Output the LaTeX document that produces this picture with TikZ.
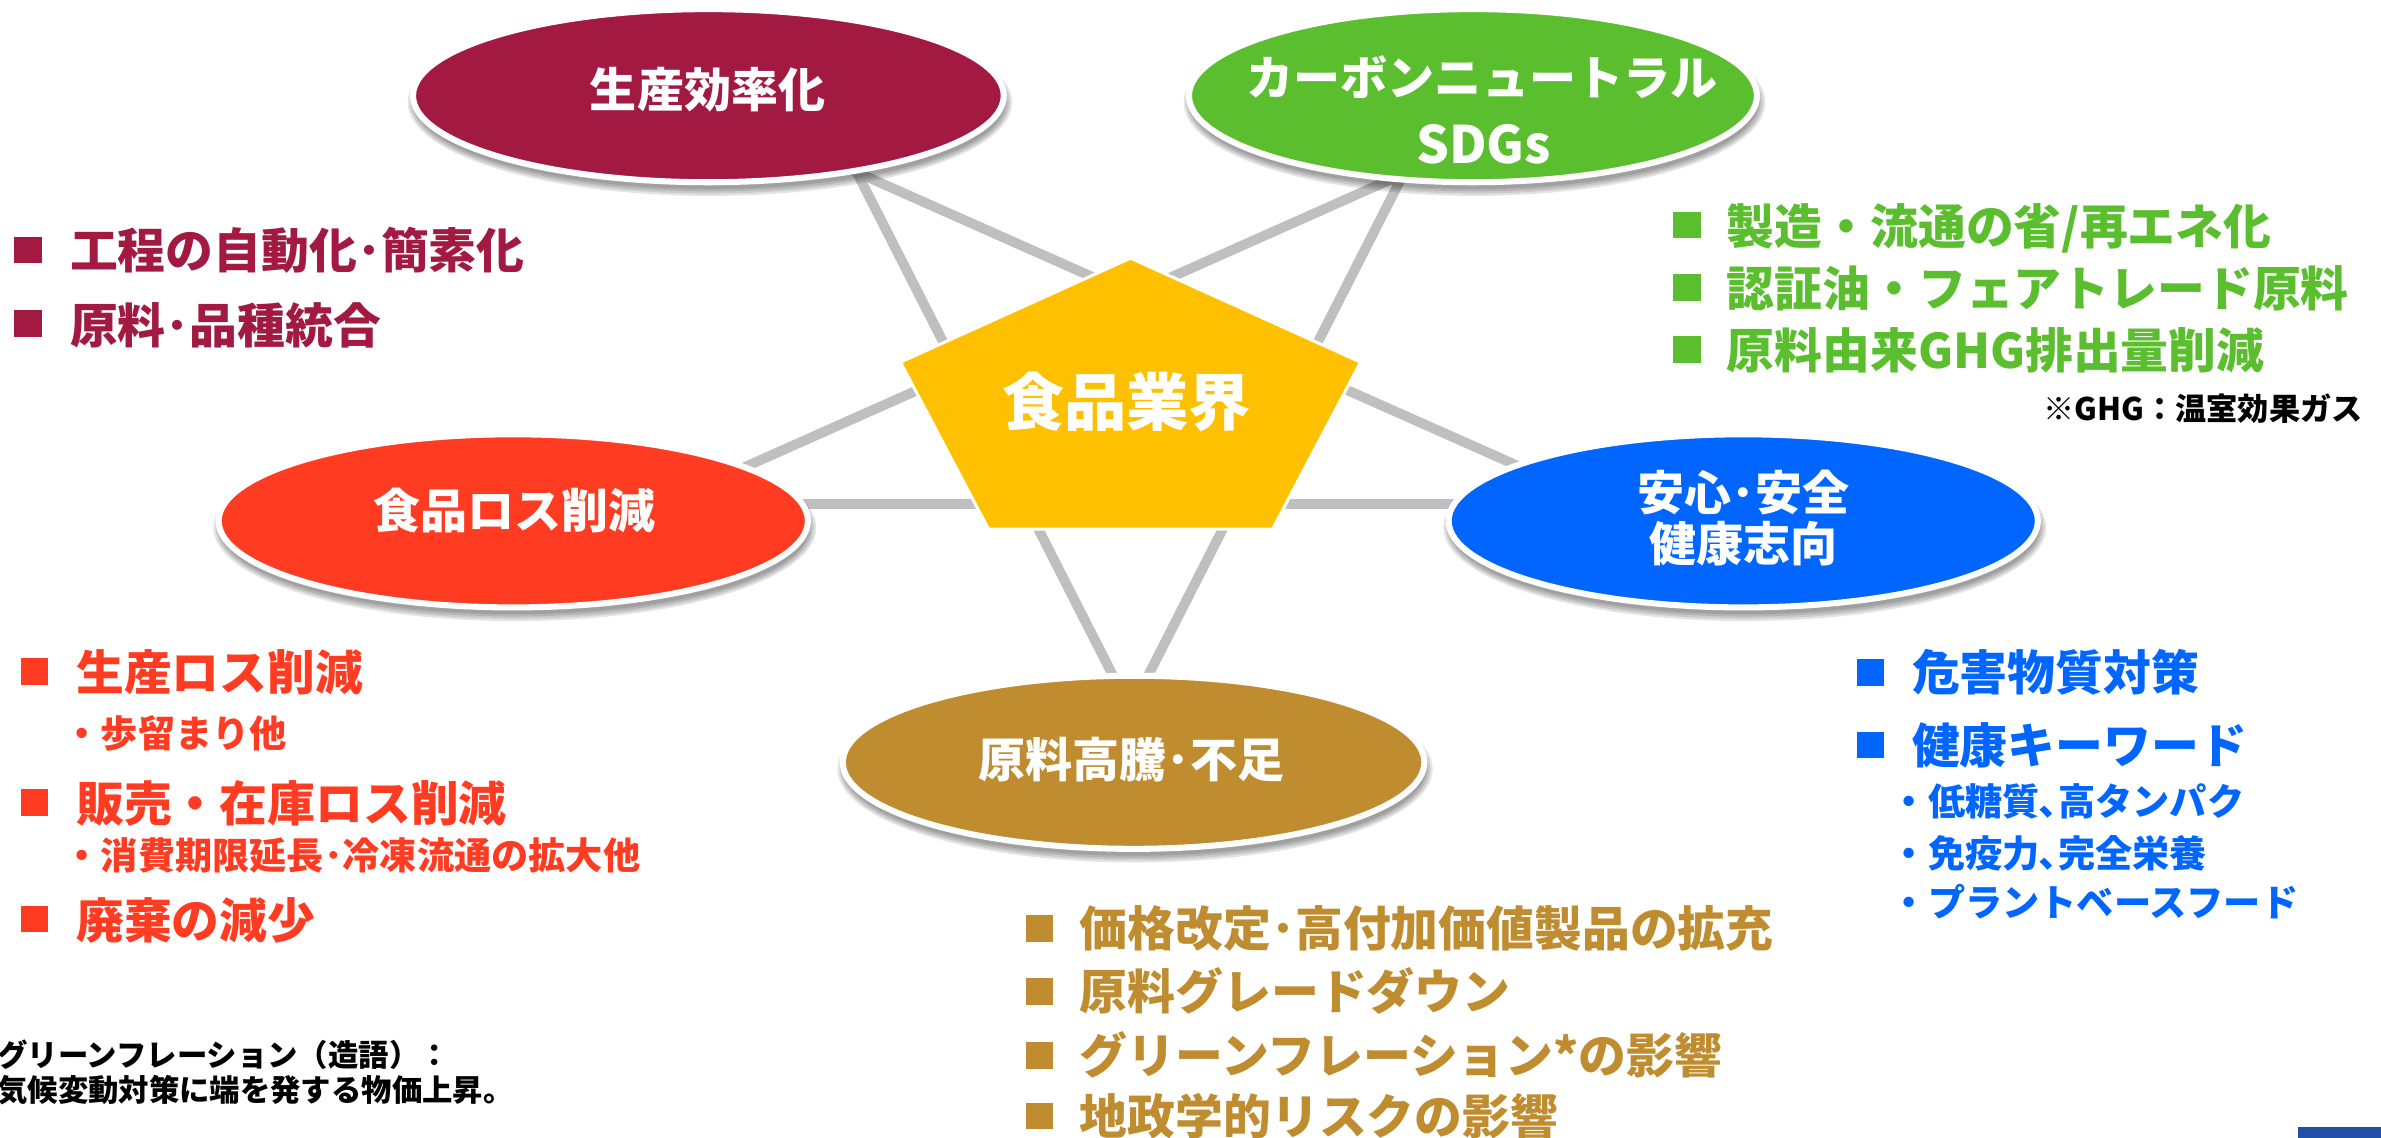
\documentclass[tikz,border=0pt]{standalone}
\usepackage{fontspec}
\setmainfont{Noto Sans CJK JP}
\usetikzlibrary{shapes.geometric}
\definecolor{ccrim}{HTML}{A21A42}
\definecolor{cgrn}{HTML}{5BBE2E}
\definecolor{cred}{HTML}{FF3B22}
\definecolor{cblu}{HTML}{0066FF}
\definecolor{cbrn}{HTML}{C08C30}
\definecolor{cgld}{HTML}{FFC000}
\definecolor{lgray}{HTML}{BFBFBF}
\definecolor{cbar}{HTML}{2150A8}
\tikzset{
  oval/.style={ellipse, draw=white, line width=4pt, inner sep=0pt, outer sep=0pt, minimum height=114pt},
  ovtxt/.style={text=white, inner sep=0pt, anchor=base, font=\bfseries\fontsize{31}{36}\selectfont},
  starline/.style={draw=lgray, line width=6.5pt},
  bsq/.style={fill=#1, minimum width=18pt, minimum height=17.5pt, inner sep=0pt, outer sep=0pt},
  btx/.style={anchor=base west, inner sep=0pt, text=#1, font=\bfseries\fontsize{31.5}{36}\selectfont},
  stx/.style={anchor=base west, inner sep=0pt, text=#1, font=\bfseries\fontsize{24.5}{28}\selectfont},
  ntx/.style={anchor=base west, inner sep=0pt, text=black, font=\bfseries\fontsize{20}{24}\selectfont},
}
\newcommand\ovshadow[4]{%
  \foreach \dd in {0,1.5,3,4.5}{%
    \fill[black, opacity=0.11] (#1+1,#2+4.5) ellipse [x radius={(#3+2.5-\dd)*1pt}, y radius={(#4+2.5-\dd)*1pt}];
  }%
}
\begin{document}
\begin{tikzpicture}[x=1pt,y=-1pt]
\useasboundingbox (0,0) rectangle (1568,749.4);
% pentagram lines
\coordinate (a1) at (559.9,105);  \coordinate (a2) at (740.6,460);
\coordinate (b1) at (560,111.6);  \coordinate (b2) at (1000,307);
\coordinate (c1) at (929.1,105);  \coordinate (c2) at (748.4,460);
\coordinate (d1) at (920,116.3);  \coordinate (d2) at (485,310);
\coordinate (e1) at (520,332);    \coordinate (e2) at (970,332);
\draw[starline] (a1) -- (a2);
\draw[starline] (b1) -- (b2);
\draw[starline] (c1) -- (c2);
\draw[starline] (d1) -- (d2);
\draw[starline] (e1) -- (e2);
% shadows
\ovshadow{466.5}{63}{196.5}{59}
\ovshadow{970}{63}{189}{59}
\ovshadow{338}{343}{196}{59}
\ovshadow{1148}{343}{196}{59}
\ovshadow{746.5}{502}{193.5}{59}
% ellipses
\node[oval, fill=ccrim, minimum width=389pt] (eff) at (466.5,63) {};
\node[oval, fill=cgrn, minimum width=374pt] (carb) at (970,63) {};
\node[oval, fill=cred, minimum width=388pt] (loss) at (338,343) {};
\node[oval, fill=cblu, minimum width=388pt] (safe) at (1148,343) {};
\node[oval, fill=cbrn, minimum width=383pt] (raw) at (746.5,502) {};
\node[ovtxt] (efft) at (466,70.5) {生産効率化};
\node[ovtxt] (carbt1) at (976,62.8) {カーボンニュートラル};
\node[ovtxt, font=\bfseries\fontsize{34}{38}\selectfont] (carbt2) at (977,107.5) {SDGs};
\node[ovtxt] (losst) at (339,347.8) {食品ロス削減};
\node[ovtxt] (safet1) at (1148,336.3) {安心･安全};
\node[ovtxt] (safet2) at (1148,369.5) {健康志向};
\node[ovtxt] (rawt) at (745,511.8) {原料高騰･不足};
% pentagon
\coordinate (pT) at (744.5,170);
\coordinate (pR) at (896,238.5);
\coordinate (pBR) at (838,348.5);
\coordinate (pBL) at (651,348.5);
\coordinate (pL) at (593,238.5);
\filldraw[fill=cgld, draw=white, line width=2pt] (pT) -- (pR) -- (pBR) -- (pBL) -- (pL) -- cycle;
\node[ovtxt, font=\bfseries\fontsize{41}{48}\selectfont] (core) at (742,280.4) {食品業界};
% crimson bullets
\node[bsq=ccrim] (s11) at (18.5,164.5) {};
\node[btx=ccrim] (t11) at (46,177) {工程の自動化･簡素化};
\node[bsq=ccrim] (s12) at (18.5,213) {};
\node[btx=ccrim] (t12) at (46,226) {原料･品種統合};
% green bullets
\node[bsq=cgrn] (s21) at (1111,148.2) {};
\node[btx=cgrn] (t21) at (1137,161) {製造・流通の省/再エネ化};
\node[bsq=cgrn] (s22) at (1111,189.2) {};
\node[btx=cgrn] (t22) at (1137,202) {認証油・フェアトレード原料};
\node[bsq=cgrn] (s23) at (1111,230.2) {};
\node[btx=cgrn] (t23) at (1137,243) {原料由来GHG排出量削減};
\node[anchor=base east, inner sep=0pt, font=\bfseries\fontsize{20.5}{24}\selectfont] (ghg) at (1556,276.8) {※GHG：温室効果ガス};
% red bullets
\node[bsq=cred] (s31) at (22.7,442.3) {};
\node[btx=cred] (t31) at (50,455) {生産ロス削減};
\node[stx=cred] (t31s) at (41.7,492.3) {・歩留まり他};
\node[bsq=cred] (s32) at (22.7,528.3) {};
\node[btx=cred] (t32) at (50,541) {販売・在庫ロス削減};
\node[stx=cred] (t32s) at (41.7,572.3) {・消費期限延長･冷凍流通の拡大他};
\node[bsq=cred] (s33) at (22.7,605.3) {};
\node[btx=cred] (t33) at (50,618) {廃棄の減少};
% blue bullets
\node[bsq=cblu] (s41) at (1232,442.8) {};
\node[btx=cblu] (t41) at (1259,455) {危害物質対策};
\node[bsq=cblu] (s42) at (1232,490.5) {};
\node[btx=cblu] (t42) at (1259,503) {健康キーワード};
\node[stx=cblu] (t42a) at (1245,537.3) {・低糖質､高タンパク};
\node[stx=cblu] (t42b) at (1245,571.3) {・免疫力､完全栄養};
\node[stx=cblu] (t42c) at (1245,603.3) {・プラントベースフード};
% brown bullets
\node[bsq=cbrn] (s51) at (684.5,611.3) {};
\node[btx=cbrn] (t51) at (711,623) {価格改定･高付加価値製品の拡充};
\node[bsq=cbrn] (s52) at (684.5,653) {};
\node[btx=cbrn] (t52) at (711,665) {原料グレードダウン};
\node[bsq=cbrn] (s53) at (684.5,695) {};
\node[btx=cbrn] (t53) at (711,707) {グリーンフレーション*の影響};
\node[bsq=cbrn] (s54) at (684.5,735) {};
\node[btx=cbrn] (t54) at (711,747) {地政学的リスクの影響};
% footnote
\node[ntx] (n1) at (-2,702.6) {グリーンフレーション（造語）：};
\node[ntx] (n2) at (-2,725.6) {気候変動対策に端を発する物価上昇。};
% bottom-right bar
\fill[cbar] (1513,742) rectangle (1568,749.4);
\end{tikzpicture}
\end{document}
